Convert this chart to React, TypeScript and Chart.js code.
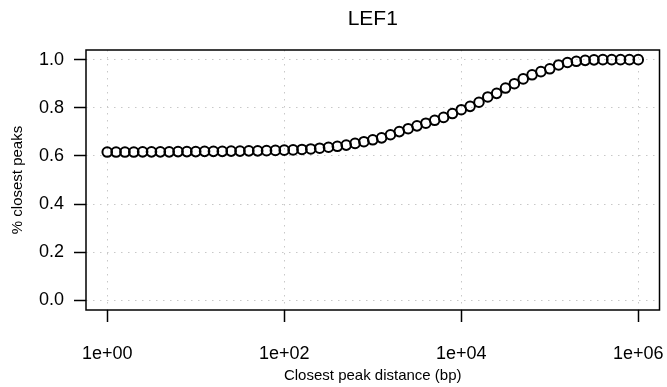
import React, { useEffect, useRef } from "react";
import { Chart, registerables } from "chart.js";

Chart.register(...registerables);

const chartTitle = "LEF1";
const xAxisTitle = "Closest peak distance (bp)";
const yAxisTitle = "% closest peaks";

const distances = [
  1, 1.259, 1.585, 1.995, 2.512, 3.162, 3.981, 5.012, 6.31, 7.943,
  10, 12.59, 15.85, 19.95, 25.12, 31.62, 39.81, 50.12, 63.1, 79.43,
  100, 125.9, 158.5, 199.5, 251.2, 316.2, 398.1, 501.2, 631, 794.3,
  1000, 1259, 1585, 1995, 2512, 3162, 3981, 5012, 6310, 7943,
  10000, 12590, 15850, 19950, 25120, 31620, 39810, 50120, 63100, 79430,
  100000, 125900, 158500, 199500, 251200, 316200, 398100, 501200, 631000, 794300,
  1000000,
];

const fractions = [
  0.616, 0.616, 0.616, 0.616, 0.617, 0.617, 0.617, 0.617, 0.618, 0.618,
  0.618, 0.619, 0.619, 0.619, 0.62, 0.62, 0.621, 0.621, 0.622, 0.623,
  0.624, 0.625, 0.627, 0.629, 0.632, 0.636, 0.64, 0.645, 0.652, 0.659,
  0.667, 0.675, 0.688, 0.701, 0.713, 0.725, 0.736, 0.748, 0.76, 0.776,
  0.792, 0.806, 0.823, 0.845, 0.86, 0.882, 0.9, 0.92, 0.937, 0.95,
  0.962, 0.978, 0.988, 0.993, 0.997, 0.999, 1.0, 1.0, 1.0, 1.0,
  1.0,
];

const xTickValues = [1, 100, 10000, 1000000];
const xTickLabels = ["1e+00", "1e+02", "1e+04", "1e+06"];
const yTickValues = [0, 0.2, 0.4, 0.6, 0.8, 1.0];
const yTickLabels = ["0.0", "0.2", "0.4", "0.6", "0.8", "1.0"];

const FONT = "'Liberation Sans', Arial, Helvetica, sans-serif";

const boxPlugin = {
  id: "rbox",
  afterDraw(chart: any) {
    const { ctx, chartArea } = chart;
    ctx.save();
    ctx.strokeStyle = "#000";
    ctx.lineWidth = 1.5;
    ctx.strokeRect(chartArea.left, chartArea.top, chartArea.right - chartArea.left, chartArea.bottom - chartArea.top);
    ctx.restore();
  },
};

export default function App() {
  const ref = useRef<HTMLCanvasElement | null>(null);
  useEffect(() => {
    if (!ref.current) return;
    const data = distances.map((d, i) => ({ x: d, y: fractions[i] }));
    const chart = new Chart(ref.current, {
      type: "scatter",
      data: {
        datasets: [
          {
            data,
            showLine: false,
            pointStyle: "circle",
            pointRadius: 4.8,
            pointBorderWidth: 2,
            pointBorderColor: "#000",
            pointBackgroundColor: "rgba(0,0,0,0)",
          },
        ],
      },
      plugins: [boxPlugin],
      options: {
        animation: false,
        responsive: false,
        devicePixelRatio: 1,
        layout: { padding: { top: 0, right: 7.5, left: 0, bottom: 0 } },
        plugins: {
          legend: { display: false },
          tooltip: { enabled: false },
          title: {
            display: true,
            text: chartTitle,
            fullSize: false,
            color: "#000",
            font: { family: FONT, size: 21, weight: "normal", lineHeight: 1.2 },
            padding: { top: 7, bottom: 17.8 },
          },
        },
        scales: {
          x: {
            type: "logarithmic",
            min: Math.pow(10, -0.24),
            max: Math.pow(10, 6.24),
            afterBuildTicks: (s: any) => {
              s.ticks = xTickValues.map((v) => ({ value: v }));
            },
            afterFit: (s: any) => {
              s.height = 77;
              s.paddingLeft = 0;
              s.paddingRight = 0;
            },
            ticks: {
              autoSkip: false,
              maxRotation: 0,
              color: "#000",
              padding: 21,
              font: { family: FONT, size: 18 },
              callback: (_v: any, i: number) => xTickLabels[i],
            },
            grid: {
              color: "#c8c8c8",
              lineWidth: 1,
              tickColor: "#000",
              tickWidth: 1.5,
              tickLength: 12,
            },
            border: { display: false, dash: [1.5, 5.5] },
            title: {
              display: true,
              text: xAxisTitle,
              color: "#000",
              font: { family: FONT, size: 15 },
              padding: { top: 0, bottom: 2 },
            },
          },
          y: {
            type: "linear",
            min: -0.04,
            max: 1.04,
            afterBuildTicks: (s: any) => {
              s.ticks = yTickValues.map((v) => ({ value: v }));
            },
            afterFit: (s: any) => {
              s.width = 86;
              s.paddingTop = 0;
              s.paddingBottom = 0;
            },
            ticks: {
              autoSkip: false,
              color: "#000",
              padding: 10,
              font: { family: FONT, size: 18 },
              callback: (_v: any, i: number) => yTickLabels[i],
            },
            grid: {
              color: "#c8c8c8",
              lineWidth: 1,
              tickColor: "#000",
              tickWidth: 1.5,
              tickLength: 12,
            },
            border: { display: false, dash: [1.5, 5.5] },
            title: {
              display: true,
              text: yAxisTitle,
              color: "#000",
              font: { family: FONT, size: 15 },
              padding: { top: 9, bottom: 0 },
            },
          },
        },
      },
    } as any);
    return () => chart.destroy();
  }, []);
  return (
    <div style={{ position: "absolute", left: 0, top: 0, width: 667, height: 387, background: "#fff" }}>
      <canvas ref={ref} width={667} height={387} style={{ display: "block" }} />
    </div>
  );
}
